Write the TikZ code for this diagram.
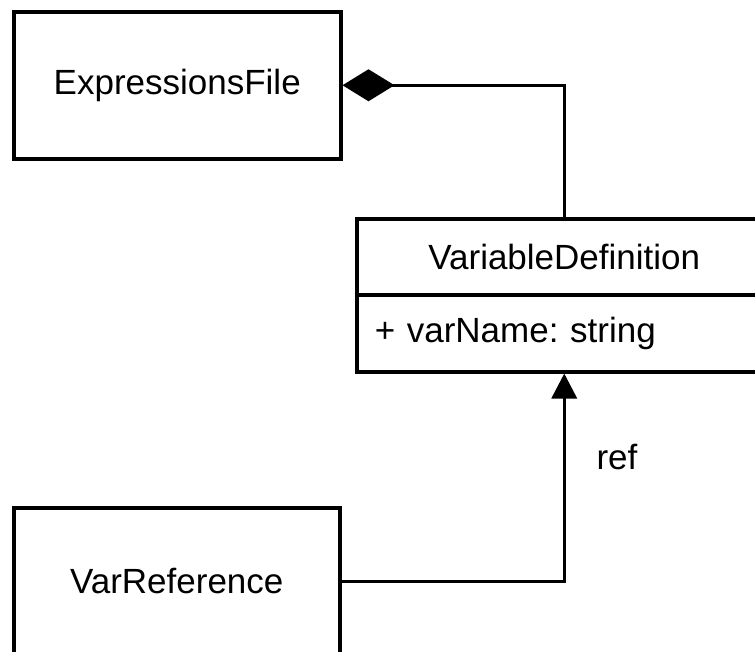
\documentclass[tikz,border=0pt]{standalone}
\usepackage{fontspec}
\setmainfont{Liberation Sans}
\usetikzlibrary{arrows.meta}
\frenchspacing
\begin{document}
\begin{tikzpicture}[x=1pt,y=-1pt,
  box/.style={draw, line width=3.5pt, font=\fontsize{35}{42}\selectfont, inner sep=0pt, anchor=north west},
  conn/.style={line width=3.5pt},
  lbl/.style={font=\fontsize{35}{42}\selectfont, inner sep=0pt}]
\useasboundingbox (0,0) rectangle (755,651);
\clip (0,0) rectangle (755,651);
\node[box, minimum width=327pt, minimum height=147pt] (ef) at (12,10) {ExpressionsFile};
\node[box, minimum width=415pt, minimum height=76pt] (vd) at (355,217) {VariableDefinition};
\node[box, text width=379pt, inner xsep=18pt, align=left, minimum height=77pt] (vda) at (355,293) {+ varName: string};
\node[box, minimum width=326pt, minimum height=147pt] (vr) at (12,506) {VarReference};
\draw[conn, {Diamond[length=52pt,width=32pt]}-] (ef.east) -| (vd.north);
\draw[conn, -{Triangle[length=25pt,width=25pt]}] (vr.east) -| (vda.south);
\node[lbl] (reflbl) at (617,457) {ref};
\end{tikzpicture}
\end{document}
